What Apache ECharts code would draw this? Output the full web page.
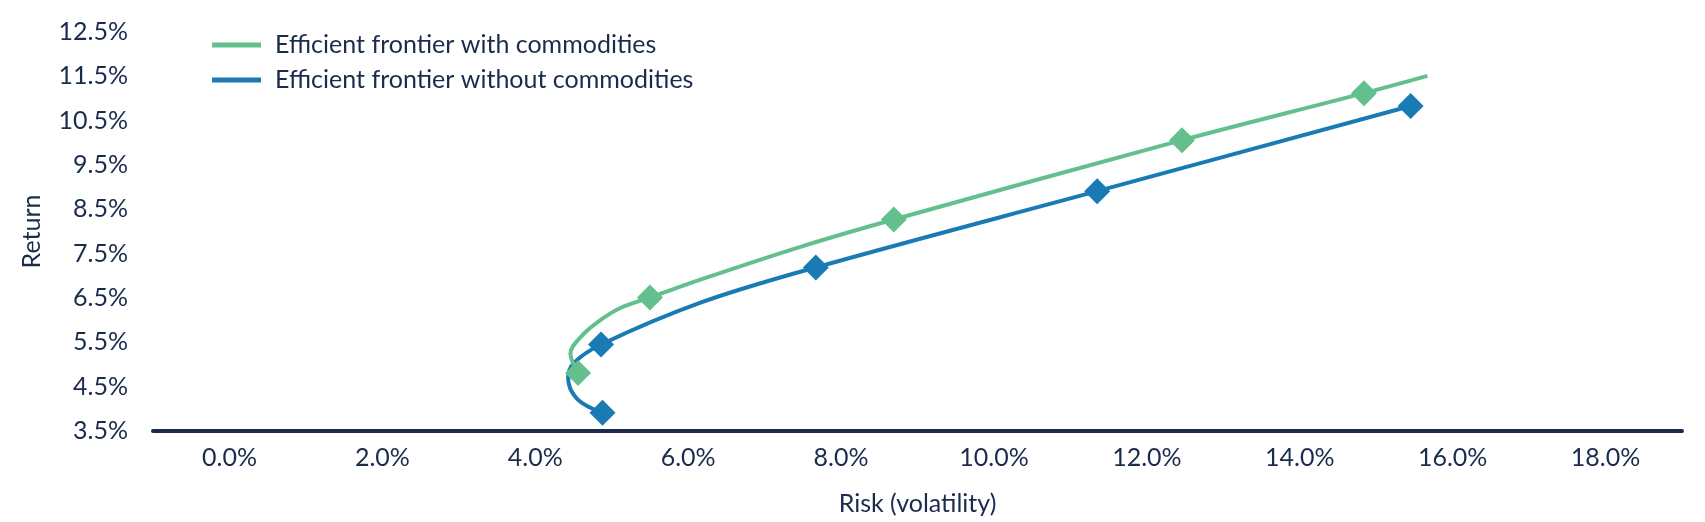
<!DOCTYPE html>
<html lang="en">
<head>
    <meta charset="UTF-8">
    <title>Efficient frontier</title>
    <script type="text/javascript" src="https://cdn.jsdelivr.net/npm/echarts@6/dist/echarts.min.js"></script>
    <style>
        html, body { margin: 0; padding: 0; background: #fff; }
    </style>
</head>
<body>
<div id="main" style="width: 1705px;height:522px"></div>
<script type="text/javascript">
    // series names
    var withName = 'Efficient frontier with commodities';
    var withoutName = 'Efficient frontier without commodities';

    // frontier curves (risk %, return %)
    var withCurveX = [4.56, 4.46, 4.60, 4.86, 5.12, 5.50, 6.17, 7.48, 8.69, 12.46, 14.84, 15.67];
    var withCurveY = [4.81, 5.25, 5.63, 6.01, 6.28, 6.51, 6.92, 7.66, 8.27, 10.06, 11.12, 11.51];
    var withoutCurveX = [4.88, 4.55, 4.43, 4.51, 4.86, 6.17, 7.67, 11.35, 15.45];
    var withoutCurveY = [3.91, 4.22, 4.70, 5.04, 5.45, 6.40, 7.19, 8.91, 10.83];

    // diamond markers
    var withMarkX = [4.56, 5.50, 8.69, 12.46, 14.84];
    var withMarkY = [4.81, 6.51, 8.27, 10.06, 11.12];
    var withoutMarkX = [4.88, 4.86, 7.67, 11.35, 15.45];
    var withoutMarkY = [3.91, 5.45, 7.19, 8.91, 10.83];

    var green = '#63c08d';
    var blue = '#1a7bb4';
    var navy = '#1b2b4d';
    var font = 'Lato';

    function pairs(xs, ys) {
        var out = [];
        for (var i = 0; i < xs.length; i++) {
            out.push([xs[i], ys[i]]);
        }
        return out;
    }

    var myChart = echarts.init(document.getElementById('main'));

    var option = {
        animation: false,
        textStyle: { fontFamily: font, color: navy },
        grid: { left: 153, right: 23, top: 32, bottom: 91 },
        legend: {
            data: [withName, withoutName],
            orient: 'vertical',
            left: 207,
            top: 25,
            icon: 'rect',
            itemWidth: 49,
            itemHeight: 5,
            itemGap: 5,
            textStyle: { fontFamily: font, fontSize: 25, color: navy, lineHeight: 30, padding: [0, 0, 0, 9] }
        },
        xAxis: {
            type: 'value',
            min: -1,
            max: 19,
            interval: 1,
            name: 'Risk (volatility)',
            nameLocation: 'middle',
            nameGap: 60,
            nameTextStyle: { fontFamily: font, fontSize: 25, color: navy },
            axisLine: { show: true, lineStyle: { color: navy, width: 4 } },
            axisTick: { show: false },
            splitLine: { show: false },
            axisLabel: {
                margin: 14,
                fontFamily: font,
                fontSize: 25,
                color: navy,
                formatter: function (v) {
                    return (Math.round(v) % 2 === 0) ? v.toFixed(1) + '%' : '';
                }
            }
        },
        yAxis: {
            type: 'value',
            min: 3.5,
            max: 12.5,
            interval: 0.5,
            name: 'Return',
            nameLocation: 'middle',
            nameGap: 109,
            nameTextStyle: { fontFamily: font, fontSize: 25, color: navy },
            axisLine: { show: false },
            axisTick: { show: false },
            splitLine: { show: false },
            axisLabel: {
                margin: 25,
                fontFamily: font,
                fontSize: 25,
                color: navy,
                formatter: function (v) {
                    return (Math.abs(v * 2) % 2 === 1) ? v.toFixed(1) + '%' : '';
                }
            }
        },
        series: [
            {
                name: withName,
                type: 'line',
                data: pairs(withCurveX, withCurveY),
                smooth: 0.35,
                showSymbol: false,
                lineStyle: { color: green, width: 4 },
                itemStyle: { color: green },
                z: 2
            },
            {
                name: withoutName,
                type: 'line',
                data: pairs(withoutCurveX, withoutCurveY),
                smooth: 0.35,
                showSymbol: false,
                lineStyle: { color: blue, width: 4 },
                itemStyle: { color: blue },
                z: 1
            },
            {
                name: withName,
                type: 'scatter',
                data: pairs(withMarkX, withMarkY),
                symbol: 'diamond',
                symbolSize: 26,
                itemStyle: { color: green, opacity: 1 },
                z: 4
            },
            {
                name: withoutName,
                type: 'scatter',
                data: pairs(withoutMarkX, withoutMarkY),
                symbol: 'diamond',
                symbolSize: 26,
                itemStyle: { color: blue, opacity: 1 },
                z: 3
            }
        ]
    };

    option && myChart.setOption(option);
</script>
</body>
</html>
